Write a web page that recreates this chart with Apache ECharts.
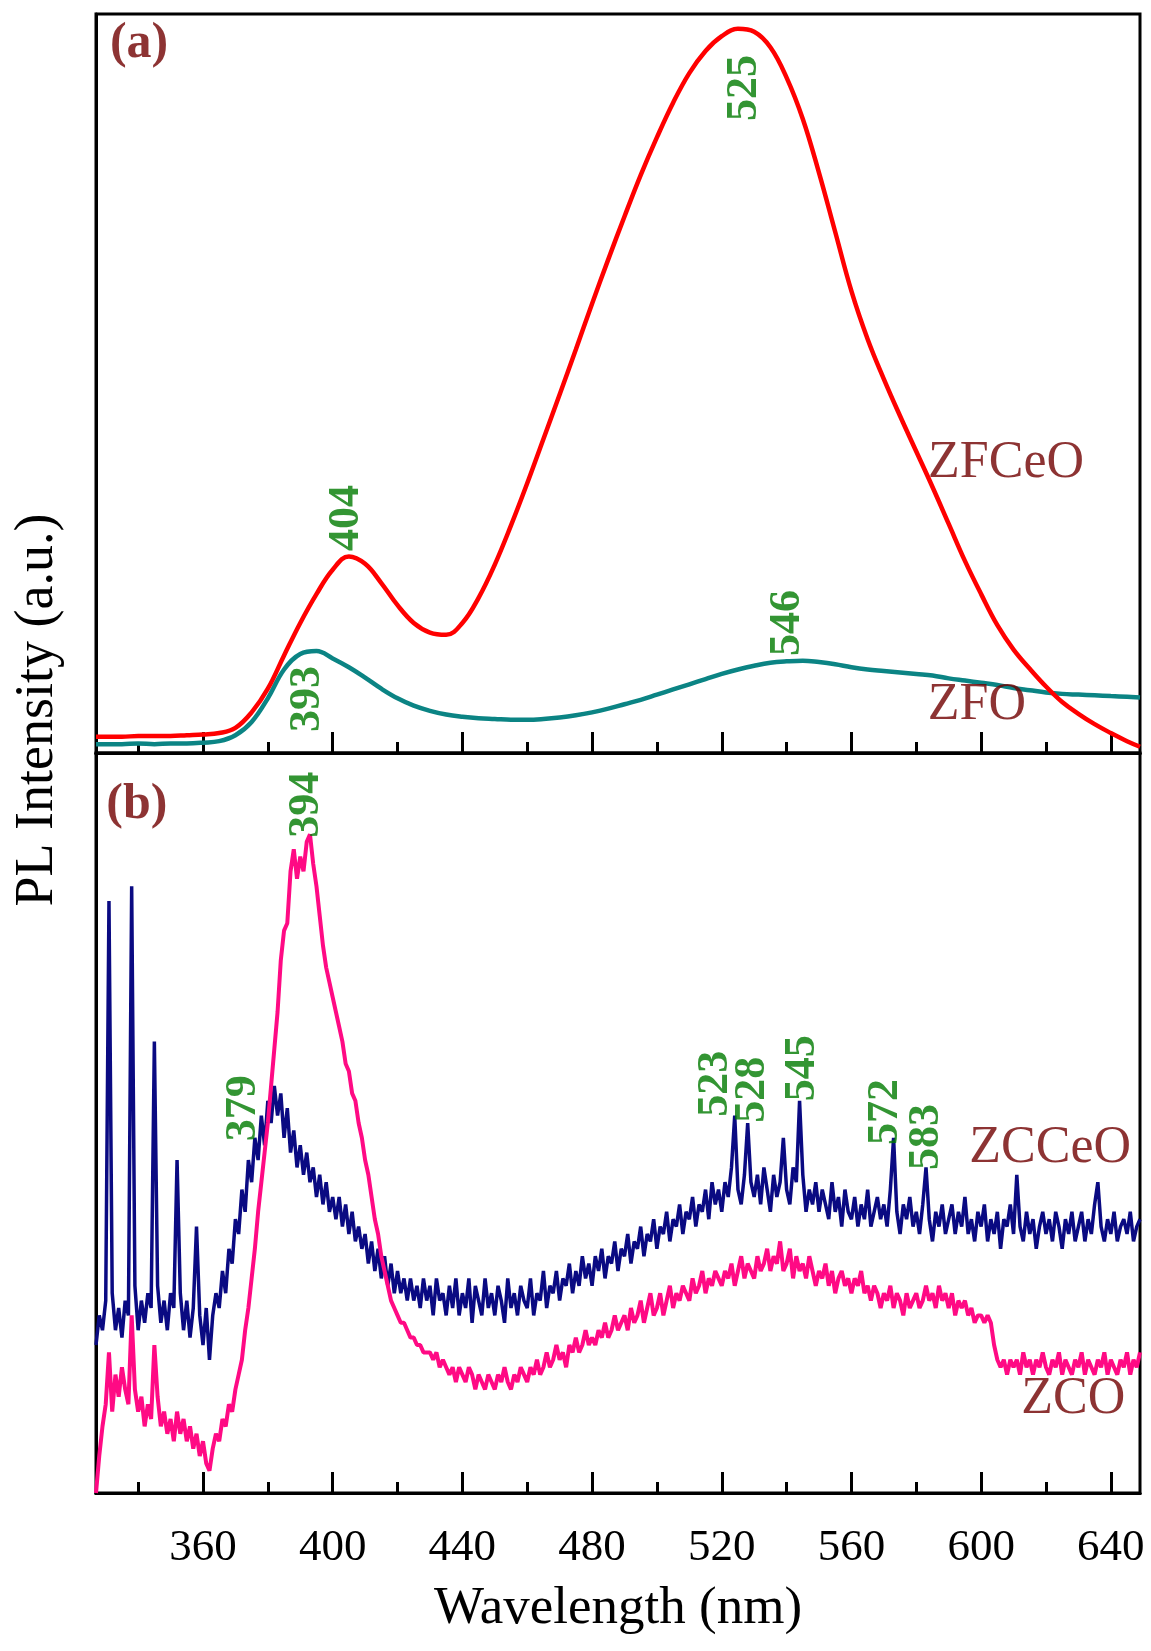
<!DOCTYPE html>
<html>
<head>
<meta charset="utf-8">
<script src="https://cdn.jsdelivr.net/npm/echarts@6.0.0/dist/echarts.min.js"></script>
<style>
html,body{margin:0;padding:0;background:#fff;}
#chart{width:1151px;height:1651px;}
</style>
</head>
<body>
<div id="chart"></div>
<script>
// ---------- Panel (a) data : wavelength grid (nm) and intensities (a.u., % of panel) ----------
const wlA = [327,330,335,340,345,350,355,360,365,370,
  375,380,385,390,395,400,405,410,415,420,
  425,430,435,440,445,450,455,460,465,470,
  475,480,485,490,495,500,505,510,515,520,
  525,530,535,540,545,550,555,560,565,570,
  575,580,585,590,595,600,605,610,615,620,
  625,630,635,640,645,649];
const zfceo = [2.2,2.2,2.2,2.3,2.3,2.3,2.4,2.5,2.7,3.4,
  5.5,8.7,13.2,17.6,21.5,24.8,26.6,25.6,23.0,20.0,
  17.6,16.3,16.0,17.6,21.0,25.5,30.8,36.5,42.5,48.5,
  54.6,60.8,66.8,72.6,78.2,83.3,88.0,92.0,95.0,97.0,
  98.0,97.6,95.5,91.4,85.8,78.5,70.5,62.5,56.0,50.6,
  45.6,40.8,36.0,31.0,26.0,21.5,17.3,14.0,11.4,9.0,
  6.9,5.3,3.9,2.7,1.6,0.85];
const zfo = [1.2,1.2,1.2,1.3,1.2,1.3,1.3,1.4,1.6,2.4,
  4.2,7.4,11.3,13.4,13.8,12.8,11.6,10.2,8.7,7.4,
  6.4,5.7,5.2,4.9,4.7,4.6,4.5,4.5,4.6,4.8,
  5.1,5.5,6.0,6.6,7.2,7.9,8.6,9.3,10.0,10.7,
  11.3,11.8,12.2,12.4,12.5,12.3,12.0,11.6,11.3,11.1,
  10.9,10.7,10.5,10.1,9.8,9.5,9.2,8.8,8.5,8.2,
  8.0,7.9,7.8,7.7,7.6,7.5];

// ---------- Panel (b) data : 1 nm sampling starting at 327 nm ----------
const wlStartB = 327;
const zcceo = [20,24,22,
  26,80,27,22,25,21,26,24,82,28,
  22,26,23,27,25,61,28,23,26,22,
  27,25,45,27,22,26,21,25,36,24,
  20,25,18,24,27,25,30,27,33,31,
  37,35,41,38,45,42,48,45,51,47,
  53,50,55,51,54,48,52,46,49,44,
  47,43,46,42,44,40,43,39,42,38,
  40,37,40,36,39,35,38,34,36,33,
  35,31,34,30,33,29,32,28,31,27,
  30,27,29,26,29,26,28,25,29,26,
  28,24,29,26,27,24,28,25,29,24,
  27,25,29,23,28,26,24,29,25,27,
  24,28,26,23,29,25,27,24,28,26,
  25,29,24,27,26,30,25,28,27,30,
  26,29,28,31,27,30,28,32,29,31,
  28,32,30,33,29,32,31,34,30,33,
  32,35,31,34,33,36,32,35,34,37,
  33,36,35,38,34,37,36,39,35,38,
  37,40,36,39,38,41,37,42,39,41,
  38,42,40,44,51,41,39,43,50,42,
  40,43,39,44,41,38,43,40,42,48,
  41,39,44,42,53,43,38,41,39,42,
  38,41,39,37,42,38,40,36,41,38,
  37,40,36,39,37,41,36,38,40,37,
  39,36,41,48,38,35,39,37,40,36,
  38,35,39,44,37,34,38,36,39,35,
  37,39,35,38,36,40,35,37,34,38,
  36,39,34,37,35,38,33,37,36,39,
  35,43,36,34,38,35,37,33,36,38,
  35,37,34,38,36,33,37,35,38,34,
  36,38,34,37,35,39,42,36,34,37,
  35,38,34,36,37,35,38,34,36,37];
const zco = [0,5,9,
  12,19,11,16,13,17,14,12,24,14,
  11,13,9,12,10,20,13,9,11,8,
  10,7,11,8,10,7,9,6,8,5,
  7,4,3,6,8,7,10,9,12,11,
  14,16,18,22,25,29,33,38,42,46,
  50,55,60,65,72,76,77,84,87,83,
  86,84,88,89,85,82,78,74,71,69,
  67,65,63,61,58,57,54,53,50,48,
  45,43,40,37,35,32,30,28,26,25,
  24,23,23,22,21,21,20,20,19,19,
  19,18,19,17,18,17,16,17,15,17,
  16,15,17,16,14,16,15,14,16,15,
  14,16,15,17,15,14,16,15,17,16,
  15,17,16,18,16,17,19,17,18,20,
  18,19,17,20,19,21,19,20,22,20,
  21,20,22,21,23,21,22,24,22,23,
  24,22,25,23,24,26,23,25,27,24,
  25,27,24,26,28,25,27,26,28,27,
  26,29,27,28,30,27,29,28,30,29,
  28,30,29,31,28,30,32,29,31,30,
  29,32,30,31,33,30,32,31,34,30,
  31,33,29,32,30,31,29,32,30,28,
  30,29,31,28,30,27,29,30,28,29,
  27,29,28,30,27,28,26,28,27,25,
  27,26,28,25,27,26,24,27,25,26,
  27,25,26,28,26,27,25,28,26,27,
  25,27,24,26,25,26,24,25,23,24,
  24,23,24,23,20,18,17,18,16,18,
  17,18,16,19,17,18,16,18,17,19,
  17,16,18,17,19,16,18,17,16,18,
  17,19,16,18,17,16,18,17,19,16,
  18,17,16,18,17,19,16,18,17,19];

// ---------- Axis ticks ----------
const majorTicks = [360,400,440,480,520,560,600,640];
const minorTicks = [340,380,420,460,500,540,580,620];
const xMin = 327, xMax = 649;

// ---------- Annotations ----------
const peakTextA = ['525','404','393','546'];
const peakAtA = [[527.2,90.0],[404.4,31.8],[392.4,7.3],[540.4,17.6]];
const peakTextB = ['394','379','523','528','545','572','583'];
const peakAtB = [[392.1,93.0],[372.6,52.0],[518.2,55.3],[529.6,54.5],[544.8,57.4],[570.4,51.5],[583.3,48.1]];
const sampleTextA = ['ZFCeO','ZFO'];
const sampleAtA = [[607.7,39.2],[598.7,6.4]];
const sampleTextB = ['ZCCeO','ZCO'];
const sampleAtB = [[621.3,46.6],[628.4,12.6]];
const panelTextA = ['(a)'], panelAtA = [[340.3,95.9]];
const panelTextB = ['(b)'], panelAtB = [[339.6,93.0]];

const SERIF = 'Liberation Serif';
const pairs = (xs, ys) => xs.map((x,i)=>[x, ys[i]]);
const pairsB = (ys) => ys.map((v,i)=>[wlStartB + i, v]);

function textSeries(texts, at, xi, yi, style, rotate) {
  return {
    type: 'scatter', xAxisIndex: xi, yAxisIndex: yi, silent: true,
    symbolSize: 1, itemStyle: {color: 'rgba(0,0,0,0)'},
    data: at.map((p,i)=>({value:p, name:texts[i]})),
    label: Object.assign({show:true, position:'inside', formatter:'{b}', rotate: rotate||0,
      align:'center', verticalAlign:'middle', fontFamily: SERIF, textBorderWidth: 0}, style),
    emphasis: {disabled: true}, z: 10
  };
}

// Note: in this build "inside: true" renders the ticks below the axis line, as in the reference.
function xAxisDef(grid, ticks, len, labels, extra) {
  return Object.assign({
    type:'value', gridIndex: grid, min: xMin, max: xMax, position:'bottom',
    axisLine: {show: true, onZero:false, lineStyle:{color:'#000', width:3}},
    axisTick: {show:true, inside: true, length: len, customValues: ticks, lineStyle:{color:'#000', width:3}},
    axisLabel: labels ? {show:true, customValues: ticks, fontFamily: SERIF, fontSize: 45, color:'#000', margin: 33}
                      : {show:false},
    splitLine: {show:false}
  }, extra||{});
}

const chart = echarts.init(document.getElementById('chart'), null, {renderer:'canvas'});
const greenStyle = {fontSize: 44, fontWeight:'bold', color:'#007a00'};
const nameStyle = {fontSize: 52, color:'#700000'};
const panelStyle = {fontSize: 50, fontWeight:'bold', color:'#700000'};

chart.setOption({
  animation: false,
  backgroundColor: '#fff',
  grid: [
    {left: 96, right: 11, top: 14, height: 739, show: true, borderColor:'#000', borderWidth: 3, backgroundColor:'transparent'},
    {left: 96, right: 11, top: 753, height: 740, show: true, borderColor:'#000', borderWidth: 3, backgroundColor:'transparent'}
  ],
  xAxis: [
    xAxisDef(0, majorTicks, 21, false),
    xAxisDef(0, minorTicks, 11, false),
    xAxisDef(1, majorTicks, 21, true, {name:'Wavelength (nm)', nameLocation:'middle', nameGap: 90,
      nameTextStyle:{fontFamily: SERIF, fontSize: 53, color:'#000'}}),
    xAxisDef(1, minorTicks, 11, false)
  ],
  yAxis: [
    {type:'value', gridIndex:0, min:0, max:100, axisLine:{show:true, lineStyle:{color:'#000', width:3}}, axisTick:{show:false}, axisLabel:{show:false}, splitLine:{show:false}},
    {type:'value', gridIndex:1, min:0, max:100, axisLine:{show:true, lineStyle:{color:'#000', width:3}}, axisTick:{show:false}, axisLabel:{show:false}, splitLine:{show:false}}
  ],
  graphic: [{
    type:'text', x: 38, y: 710, rotation: Math.PI/2,
    style: {text:'PL Intensity (a.u.)', font: '54px "Liberation Serif"', fill:'#000', textAlign:'center', textVerticalAlign:'middle'}
  }],
  series: [
    {name:'ZFO', type:'line', xAxisIndex:0, yAxisIndex:0, data: pairs(wlA, zfo), showSymbol:false, smooth:0.4,
      lineStyle:{color:'#0b8484', width:4.5}, itemStyle:{color:'#0b8484'}, clip:true},
    {name:'ZFCeO', type:'line', xAxisIndex:0, yAxisIndex:0, data: pairs(wlA, zfceo), showSymbol:false, smooth:0.4,
      lineStyle:{color:'#ff0000', width:4.5}, itemStyle:{color:'#ff0000'}, clip:true},
    {name:'ZCCeO', type:'line', xAxisIndex:2, yAxisIndex:1, data: pairsB(zcceo), showSymbol:false,
      lineStyle:{color:'#0a0a82', width:3.5}, itemStyle:{color:'#0a0a82'}, clip:true},
    {name:'ZCO', type:'line', xAxisIndex:2, yAxisIndex:1, data: pairsB(zco), showSymbol:false,
      lineStyle:{color:'#ff0a84', width:4}, itemStyle:{color:'#ff0a84'}, clip:true},
    textSeries(peakTextA, peakAtA, 0, 0, greenStyle, 90),
    textSeries(peakTextB, peakAtB, 2, 1, greenStyle, 90),
    textSeries(sampleTextA, sampleAtA, 0, 0, nameStyle, 0),
    textSeries(sampleTextB, sampleAtB, 2, 1, nameStyle, 0),
    textSeries(panelTextA, panelAtA, 0, 0, panelStyle, 0),
    textSeries(panelTextB, panelAtB, 2, 1, panelStyle, 0)
  ]
});
</script>
</body>
</html>
